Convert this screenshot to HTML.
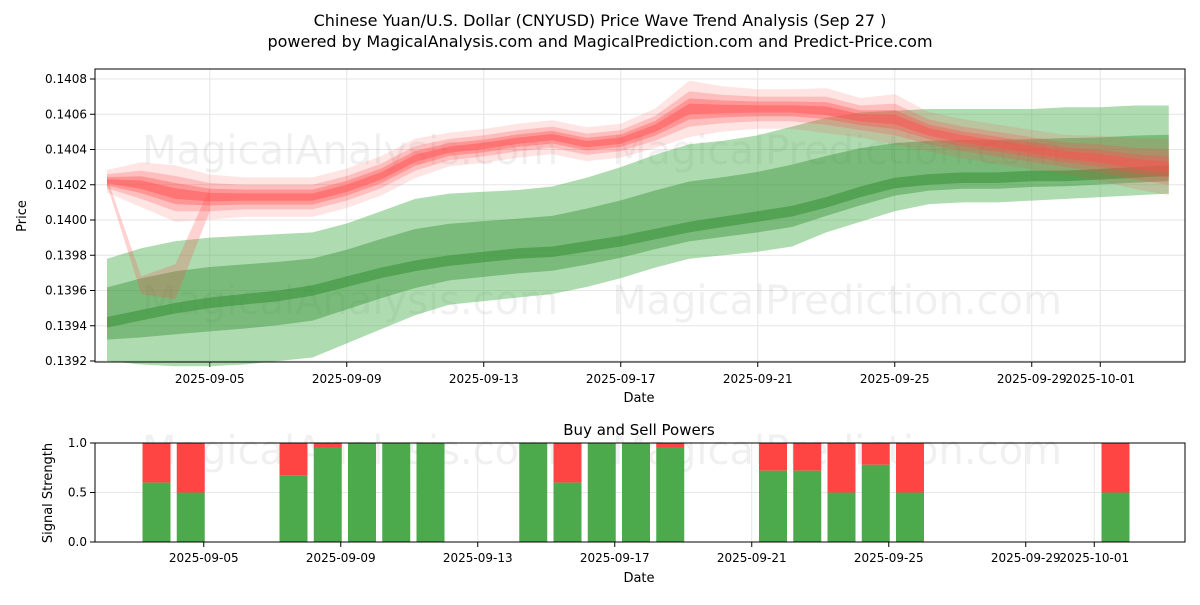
<!DOCTYPE html>
<html><head><meta charset="utf-8"><style>
body{margin:0;background:#fff;font-family:"Liberation Sans","DejaVu Sans",sans-serif}
svg text{font-family:"DejaVu Sans","Liberation Sans",sans-serif}
</style></head><body>
<svg id="c" width="1200" height="600" xmlns="http://www.w3.org/2000/svg">
<text x="600" y="26" text-anchor="middle" font-size="16">Chinese Yuan/U.S. Dollar (CNYUSD) Price Wave Trend Analysis (Sep 27 )</text>
<text x="600" y="47" text-anchor="middle" font-size="16">powered by MagicalAnalysis.com and MagicalPrediction.com and Predict-Price.com</text>
<g id="top"></g><g id="bot"></g>
</svg>
<script>
const days=["09-02","09-03","09-04","09-05","09-06","09-07","09-08","09-09","09-10","09-11","09-12","09-13","09-14","09-15","09-16","09-17","09-18","09-19","09-20","09-21","09-22","09-23","09-24","09-25","09-26","09-27","09-28","09-29","09-30","10-01","10-02","10-03"];
const redMid=[0.14022,0.14020,0.14015,0.14013,0.14013,0.14013,0.14013,0.14018,0.14025,0.14035,0.14040,0.14042,0.14045,0.14047,0.14043,0.14045,0.14052,0.14063,0.14063,0.14063,0.14063,0.14062,0.14058,0.14057,0.14050,0.14046,0.14043,0.14040,0.14037,0.14035,0.14032,0.14030];
const redSpread=[0.00004,0.00008,0.00010,0.00008,0.00007,0.00007,0.00007,0.00007,0.00007,0.00007,0.00006,0.00006,0.00006,0.00006,0.00006,0.00006,0.00007,0.00010,0.00008,0.00007,0.00007,0.00008,0.00007,0.00009,0.00007,0.00007,0.00007,0.00007,0.00007,0.00008,0.00009,0.00010];
const redDipLow=[0.14020,0.13958,0.13955,0.14005];
const redDipHigh=[0.14024,0.13968,0.13975,0.14018];
const greenMid=[0.13942,0.13946,0.13950,0.13953,0.13955,0.13957,0.13960,0.13965,0.13970,0.13974,0.13977,0.13979,0.13981,0.13982,0.13985,0.13988,0.13992,0.13996,0.13999,0.14002,0.14005,0.14010,0.14016,0.14021,0.14023,0.14024,0.14024,0.14025,0.14025,0.14026,0.14027,0.14028];
const greenLow=[0.13920,0.13918,0.13917,0.13917,0.13918,0.13920,0.13922,0.13930,0.13938,0.13946,0.13952,0.13954,0.13956,0.13958,0.13962,0.13967,0.13973,0.13978,0.13980,0.13982,0.13985,0.13993,0.13999,0.14005,0.14009,0.14010,0.14010,0.14011,0.14012,0.14013,0.14014,0.14015];
const greenHigh=[0.13978,0.13984,0.13988,0.13990,0.13991,0.13992,0.13993,0.13998,0.14005,0.14012,0.14015,0.14016,0.14017,0.14019,0.14024,0.14030,0.14037,0.14043,0.14045,0.14048,0.14053,0.14058,0.14061,0.14062,0.14063,0.14063,0.14063,0.14063,0.14064,0.14064,0.14065,0.14065];
const yTicks=[0.1392,0.1394,0.1396,0.1398,0.1400,0.1402,0.1404,0.1406,0.1408];
const xTickIdx=[3,7,11,15,19,23,27,29];
const xTickLab=["2025-09-05","2025-09-09","2025-09-13","2025-09-17","2025-09-21","2025-09-25","2025-09-29","2025-10-01"];
const buy=[null,null,0.6,0.5,null,null,0.67,0.95,1,1,1,null,null,1,0.6,1,1,0.95,null,null,0.72,0.72,0.5,0.78,0.5,null,null,null,null,null,0.5,null];
const NS="http://www.w3.org/2000/svg";
const X=i=>107+i*34.25, Y=v=>361-(v-0.1392)/0.0002*35.25, Yb=v=>542-v*99;
function el(p,t,a){const e=document.createElementNS(NS,t);for(const k in a)e.setAttribute(k,a[k]);p.appendChild(e);return e;}
const gTop=document.getElementById('top'),gBot=document.getElementById('bot');
function frame(g,y0,y1,nm){const r=el(g,'rect',{x:95,y:y0,width:1090,height:y1-y0,fill:'none',stroke:'#000','stroke-width':1});}
yTicks.forEach(v=>{const y=Y(v);el(gTop,'line',{x1:95,x2:1185,y1:y,y2:y,stroke:'#e6e6e6'});el(gTop,'line',{x1:90,x2:95,y1:y,y2:y,stroke:'#000'});
const t=el(gTop,'text',{x:87,y:y+4,'text-anchor':'end','font-size':12});t.textContent=v.toFixed(4);});
xTickIdx.forEach((i,k)=>{const x=X(i);el(gTop,'line',{x1:x,x2:x,y1:69,y2:362,stroke:'#e6e6e6'});el(gTop,'line',{x1:x,x2:x,y1:362,y2:367,stroke:'#000'});
const t=el(gTop,'text',{x:x,y:383,'text-anchor':'middle','font-size':12});t.textContent=xTickLab[k];});
[[350,150],[837,150],[350,300],[837,300],[350,450],[837,450]].forEach(p=>{const t=el(gTop,'text',{x:p[0],y:p[1]+14,'text-anchor':'middle','font-size':40,fill:'#000','fill-opacity':0.06});t.textContent=p[0]<600?'MagicalAnalysis.com':'MagicalPrediction.com';});
function band(lo,hi,col,op,nm){let d='';lo.forEach((v,i)=>d+=(i?'L':'M')+X(i)+','+Y(v));for(let i=hi.length-1;i>=0;i--)d+='L'+X(i)+','+Y(hi[i]);const p=el(gTop,'path',{d:d+'Z',fill:col,'fill-opacity':op});}
band(greenLow,greenHigh,'#4caf50',0.45,'green-band-outer');
band(greenMid.map((v,i)=>v-(greenMid[i]-greenLow[i])*0.45),greenMid.map((v,i)=>v+(greenHigh[i]-greenMid[i])*0.55),'#2e8b2e',0.4,'green-band-inner');
band(greenMid.map(v=>v-0.00003),greenMid.map(v=>v+0.00003),'#2e8b2e',0.5,'green-band-core');
band(redDipLow,redDipHigh,'#ff4d4d',0.25,'red-dip-band');
[1.6,1.0,0.6,0.3].forEach((f,k)=>band(redMid.map((v,i)=>v-redSpread[i]*f),redMid.map((v,i)=>v+redSpread[i]*f),'#ff4d4d',[0.15,0.25,0.35,0.45][k],'red-band'));
frame(gTop,69,362,'price-plot-area');
let t=el(gTop,'text',{x:639,y:402,'text-anchor':'middle','font-size':13});t.textContent='Date';
t=el(gTop,'text',{x:26,y:216,'text-anchor':'middle','font-size':13,transform:'rotate(-90 26 216)'});t.textContent='Price';
[0,0.5,1].forEach(v=>{const y=Yb(v);el(gBot,'line',{x1:95,x2:1185,y1:y,y2:y,stroke:'#e6e6e6'});el(gBot,'line',{x1:90,x2:95,y1:y,y2:y,stroke:'#000'});
const tt=el(gBot,'text',{x:87,y:y+4,'text-anchor':'end','font-size':12});tt.textContent=v.toFixed(1);});
xTickIdx.forEach((i,k)=>{const x=X(i)-6;el(gBot,'line',{x1:x,x2:x,y1:443,y2:542,stroke:'#e6e6e6'});el(gBot,'line',{x1:x,x2:x,y1:542,y2:547,stroke:'#000'});
const tt=el(gBot,'text',{x:x,y:562,'text-anchor':'middle','font-size':12});tt.textContent=xTickLab[k];});
buy.forEach((b,i)=>{if(b===null)return;const x=X(i)-19-14;
const r1=el(gBot,'rect',{x:x,y:Yb(1),width:28,height:Yb(b)-Yb(1),fill:'#ff4444'});
const r2=el(gBot,'rect',{x:x,y:Yb(b),width:28,height:Yb(0)-Yb(b),fill:'#4caa4c'});});
frame(gBot,443,542,'signal-plot-area');
t=el(gBot,'text',{x:639,y:435,'text-anchor':'middle','font-size':15});t.textContent='Buy and Sell Powers';
t=el(gBot,'text',{x:639,y:582,'text-anchor':'middle','font-size':13});t.textContent='Date';
t=el(gBot,'text',{x:52,y:493,'text-anchor':'middle','font-size':13,transform:'rotate(-90 52 493)'});t.textContent='Signal Strength';
</script>
</body></html>
